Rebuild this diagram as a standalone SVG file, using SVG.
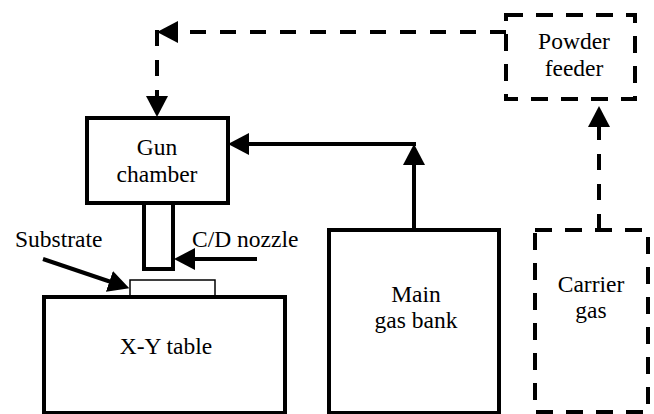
<svg xmlns="http://www.w3.org/2000/svg" width="654" height="414" viewBox="0 0 654 414">
<style>
.box{fill:#fff;stroke:#000;stroke-width:4}
.dbox{fill:none;stroke:#000;stroke-width:4;stroke-dasharray:17 13}
.thin{fill:#fff;stroke:#000;stroke-width:1.5}
.t{font-family:"Liberation Serif","Times New Roman",serif;font-size:23.5px;fill:#000}
.c{text-anchor:middle}
.ln{fill:none;stroke:#000;stroke-width:4}
.dl{fill:none;stroke:#000;stroke-width:4;stroke-dasharray:16 14}
</style>
<defs>
<marker id="ah" markerUnits="userSpaceOnUse" markerWidth="22" markerHeight="22" viewBox="0 0 22 22" refX="8" refY="11" orient="auto">
<path d="M0,0 L21,11 L0,22 z" fill="#000"/>
</marker>
</defs>
<rect width="654" height="414" fill="#fff"/>
<g id="gun-chamber">
<rect class="box" x="87" y="118" width="141" height="85"/>
<text class="t c" x="157" y="155">Gun</text>
<text class="t c" x="157" y="182">chamber</text>
</g>
<g id="nozzle">
<rect class="box" x="144" y="203" width="29" height="66"/>
</g>
<g id="substrate">
<rect class="thin" x="130" y="280" width="85" height="17"/>
</g>
<g id="xy-table">
<rect class="box" x="44" y="297" width="241" height="116"/>
<text class="t c" x="166" y="354">X-Y table</text>
</g>
<g id="main-gas-bank">
<rect class="box" x="329" y="230" width="170" height="183"/>
<text class="t c" x="416" y="302">Main</text>
<text class="t c" x="416" y="328">gas bank</text>
</g>
<g id="carrier-gas">
<rect class="dbox" x="535" y="230" width="113" height="182"/>
<text class="t c" x="591" y="292">Carrier</text>
<text class="t c" x="591" y="318">gas</text>
</g>
<g id="powder-feeder">
<rect class="dbox" x="506" y="15" width="129" height="84"/>
<text class="t c" x="574" y="49">Powder</text>
<text class="t c" x="574" y="76">feeder</text>
</g>
<g id="labels">
<text class="t" x="15" y="247">Substrate</text>
<text class="t" x="192" y="247">C/D nozzle</text>
</g>
<g id="connectors">
<path class="dl" d="M506,32 L170,32" marker-end="url(#ah)"/>
<path class="dl" d="M157,30 L157,104" marker-end="url(#ah)"/>
<path class="ln" d="M414,230 L414,157" marker-end="url(#ah)"/>
<path class="ln" d="M416,144 L241,144" marker-end="url(#ah)"/>
<path class="dl" d="M599,230 L599,119" marker-end="url(#ah)"/>
<path class="ln" d="M43,259 L117,284" marker-end="url(#ah)"/>
<path class="ln" d="M257,259 L187,259" marker-end="url(#ah)"/>
</g>
</svg>
